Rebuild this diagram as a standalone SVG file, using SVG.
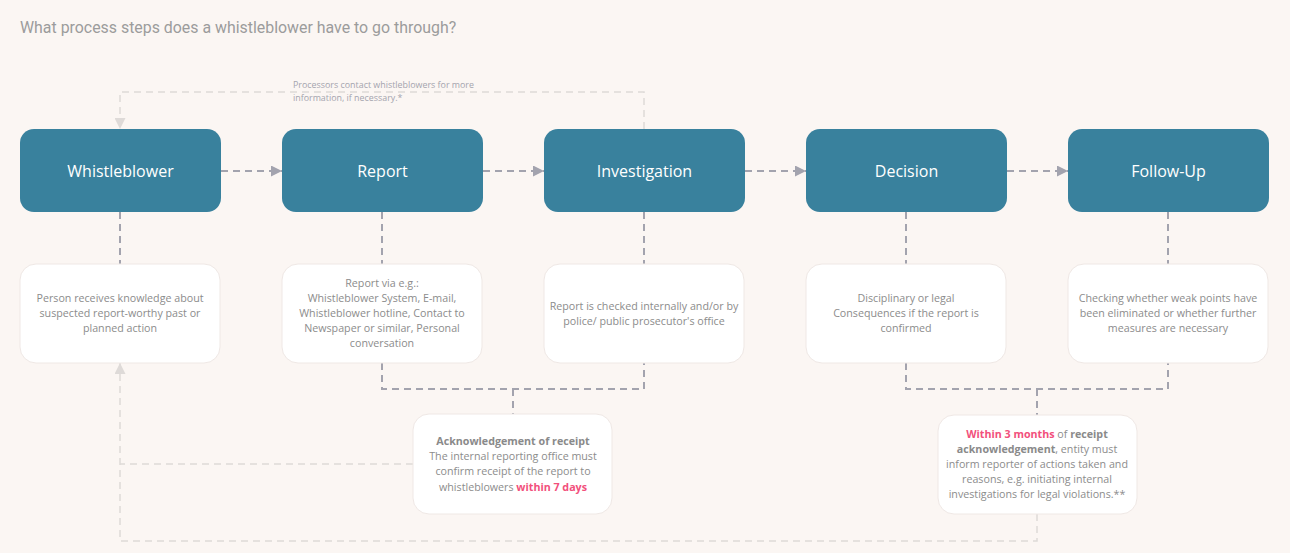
<svg xmlns="http://www.w3.org/2000/svg" width="1290" height="553" viewBox="0 0 1290 553">
<defs>
<marker id="ah" viewBox="0 0 10 10" refX="10" refY="5" markerWidth="11" markerHeight="11" markerUnits="userSpaceOnUse" orient="auto">
<path d="M0,0 L10,5 L0,10 Z" fill="#a3a3ae"/>
</marker>
<marker id="ahl" viewBox="0 0 10 10" refX="10" refY="5" markerWidth="11" markerHeight="11" markerUnits="userSpaceOnUse" orient="auto">
<path d="M0,0 L10,5 L0,10 Z" fill="#dedad8"/>
</marker>
<style>
.step rect{fill:#39819d}
.step text{font-family:"Open Sans","Noto Sans",sans-serif;font-size:16px;fill:#ffffff;text-anchor:middle}
.desc rect{fill:#ffffff;stroke:#efe8e5;stroke-width:1}
.desc text{font-family:"Open Sans","Noto Sans",sans-serif;font-size:10.7px;fill:#8c8c8c;text-anchor:middle}
.b{font-weight:700;fill:#8a8a8a}
.pk{font-weight:700;fill:#f2507c}
.main{fill:none;stroke:#a3a3ae;stroke-width:2;stroke-dasharray:7 5}
.light{fill:none;stroke:#dedad8;stroke-width:1.5;stroke-dasharray:7 5}
.lbl{font-family:"Open Sans","Noto Sans",sans-serif;font-size:8.9px;fill:#a4a4ae}
</style>
</defs>
<rect width="1290" height="553" fill="#fbf6f3"/>
<text x="20" y="33" font-family="Roboto,'Liberation Sans',sans-serif" font-size="15.9" fill="#9c9c9c">What process steps does a whistleblower have to go through?</text>

<g id="connectors">
<path class="main" d="M221,171 H282" marker-end="url(#ah)"/>
<path class="main" d="M483,171 H544" marker-end="url(#ah)"/>
<path class="main" d="M745,171 H806" marker-end="url(#ah)"/>
<path class="main" d="M1007,171 H1068" marker-end="url(#ah)"/>
<path class="main" d="M120,212 V264"/>
<path class="main" d="M382,212 V264"/>
<path class="main" d="M644,212 V264"/>
<path class="main" d="M906,212 V264"/>
<path class="main" d="M1168,212 V264"/>
<path class="main" d="M382,363 V389 H644 V363"/>
<path class="main" d="M513,389 V414"/>
<path class="main" d="M906,363 V389 H1168 V363"/>
<path class="main" d="M1037,389 V415"/>
<path class="light" d="M644,129 V92 H120 V129" marker-end="url(#ahl)"/>
<path class="light" d="M413,464 H120"/>
<path class="light" d="M1037,514 V541 H120 V363" marker-end="url(#ahl)"/>
<text class="lbl" x="293" y="88">Processors contact whistleblowers for more</text>
<text class="lbl" x="293" y="101">information, if necessary.*</text>
</g>

<g id="whistleblower" class="step"><rect x="20" y="129" width="201" height="83" rx="14"/><text x="120.5" y="176.5">Whistleblower</text></g>
<g id="report" class="step"><rect x="282" y="129" width="201" height="83" rx="14"/><text x="382.5" y="176.5">Report</text></g>
<g id="investigation" class="step"><rect x="544" y="129" width="201" height="83" rx="14"/><text x="644.5" y="176.5">Investigation</text></g>
<g id="decision" class="step"><rect x="806" y="129" width="201" height="83" rx="14"/><text x="906.5" y="176.5">Decision</text></g>
<g id="followup" class="step"><rect x="1068" y="129" width="201" height="83" rx="14"/><text x="1168.5" y="176.5">Follow-Up</text></g>

<g id="whistleblower-desc" class="desc"><rect x="20" y="264" width="200" height="99" rx="16"/>
<text x="120" y="302">Person receives knowledge about</text>
<text x="120" y="317">suspected report-worthy past or</text>
<text x="120" y="332">planned action</text></g>
<g id="report-desc" class="desc"><rect x="282" y="264" width="200" height="99" rx="16"/>
<text x="382" y="287">Report via e.g.:</text>
<text x="382" y="302">Whistleblower System, E-mail,</text>
<text x="382" y="317">Whistleblower hotline, Contact to</text>
<text x="382" y="332">Newspaper or similar, Personal</text>
<text x="382" y="347">conversation</text></g>
<g id="investigation-desc" class="desc"><rect x="544" y="264" width="200" height="99" rx="16"/>
<text x="644" y="310">Report is checked internally and/or by</text>
<text x="644" y="325">police/ public prosecutor's office</text></g>
<g id="decision-desc" class="desc"><rect x="806" y="264" width="200" height="99" rx="16"/>
<text x="906" y="302">Disciplinary or legal</text>
<text x="906" y="317">Consequences if the report is</text>
<text x="906" y="332">confirmed</text></g>
<g id="followup-desc" class="desc"><rect x="1068" y="264" width="200" height="99" rx="16"/>
<text x="1168" y="302">Checking whether weak points have</text>
<text x="1168" y="317">been eliminated or whether further</text>
<text x="1168" y="332">measures are necessary</text></g>

<g id="acknowledgement" class="desc"><rect x="413" y="414" width="199" height="100" rx="16"/>
<text x="513" y="445"><tspan class="b">Acknowledgement of receipt</tspan></text>
<text x="513" y="460">The internal reporting office must</text>
<text x="513" y="475">confirm receipt of the report to</text>
<text x="513" y="491">whistleblowers <tspan class="pk">within 7 days</tspan></text></g>

<g id="three-months" class="desc"><rect x="938" y="415" width="199" height="99" rx="16"/>
<text x="1037" y="438"><tspan class="pk">Within 3 months</tspan> of <tspan class="b">receipt</tspan></text>
<text x="1037" y="453"><tspan class="b">acknowledgement</tspan>, entity must</text>
<text x="1037" y="468">inform reporter of actions taken and</text>
<text x="1037" y="483">reasons, e.g. initiating internal</text>
<text x="1037" y="498">investigations for legal violations.**</text></g>
</svg>
